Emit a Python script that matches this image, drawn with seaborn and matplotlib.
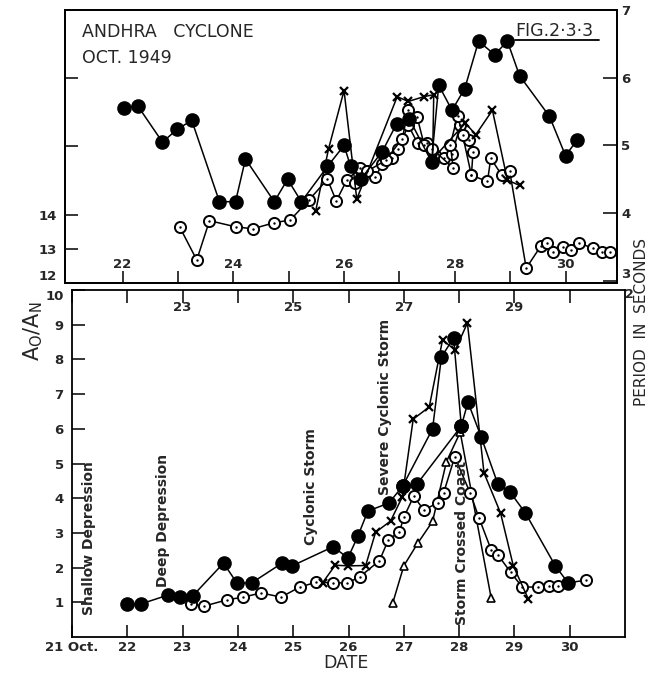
import matplotlib
matplotlib.use("Agg")
import matplotlib.pyplot as plt
import matplotlib.transforms as mtransforms
from matplotlib.lines import Line2D
import pandas as pd
import seaborn as sns

# ---------------- data : upper panel (wave period, seconds) ----------------
top_filled_date = [22.02, 22.27, 22.72, 22.99, 23.25, 23.75, 24.04, 24.22, 24.74, 24.98, 25.23,
                   25.70, 26.0, 26.12, 26.30, 26.69, 26.95, 27.18, 27.58, 27.71, 27.95, 28.18,
                   28.43, 28.72, 28.95, 29.17, 29.71, 30.0, 30.21]
top_filled_period = [5.55, 5.59, 5.05, 5.24, 5.37, 4.17, 4.17, 4.80, 4.17, 4.50, 4.17,
                     4.69, 5.0, 4.69, 4.50, 4.91, 5.32, 5.39, 4.76, 5.89, 5.52, 5.84,
                     6.54, 6.34, 6.54, 6.03, 5.43, 4.85, 5.08]

top_open_a_date = [23.03, 23.34, 23.57, 24.04, 24.35, 24.74, 25.03, 25.36, 25.70, 25.86, 26.05,
                   26.29, 26.56, 26.69, 26.87, 26.98, 27.16, 27.33, 27.50, 27.65, 27.80, 27.95,
                   28.10, 28.25, 28.33, 28.30, 28.59, 28.65, 28.85, 28.99, 29.29, 29.55, 29.67,
                   29.78, 29.96, 30.10, 30.25, 30.50, 30.66, 30.81]
top_open_a_period = [3.80, 3.31, 3.89, 3.80, 3.77, 3.86, 3.90, 4.19, 4.50, 4.18, 4.49,
                     4.67, 4.53, 4.72, 4.81, 4.95, 5.30, 5.03, 5.03, 4.86, 4.81, 4.87,
                     5.30, 5.08, 4.91, 4.56, 4.47, 4.81, 4.56, 4.63, 3.19, 3.51, 3.56,
                     3.43, 3.50, 3.45, 3.56, 3.48, 3.43, 3.43]

top_open_b_date = [26.20, 26.42, 26.75, 27.05, 27.16, 27.32, 27.45, 27.59, 27.97, 27.92, 28.05,
                   28.14, 28.30]
top_open_b_period = [4.44, 4.62, 4.78, 5.10, 5.52, 5.42, 5.00, 4.95, 4.67, 5.01, 5.44,
                     5.16, 4.56]

top_cross_date = [25.49, 25.72, 26.0, 26.23, 26.96, 27.16, 27.44, 27.62, 27.60, 28.19, 28.38,
                  28.68, 28.95, 29.17]
top_cross_period = [4.04, 4.95, 5.81, 4.21, 5.72, 5.65, 5.72, 5.75, 4.80, 5.33, 5.16,
                    5.52, 4.49, 4.41]

# ---------------- data : lower panel (Ao/An) ----------------
bot_filled_a_date = [22.0, 22.24, 22.74, 22.95, 23.18, 23.74, 23.98, 24.25, 24.80, 24.98,
                     25.72, 25.99, 26.17, 26.35, 26.73, 26.98, 27.52, 27.68, 27.90, 28.04]
bot_filled_a_ratio = [0.95, 0.95, 1.21, 1.15, 1.18, 2.13, 1.56, 1.56, 2.13, 2.05,
                      2.60, 2.28, 2.91, 3.63, 3.86, 4.35, 6.00, 8.07, 8.62, 6.08]

bot_filled_b_date = [26.98, 27.24, 28.04, 28.16, 28.40, 28.70, 28.92, 29.20, 29.74, 29.97]
bot_filled_b_ratio = [4.35, 4.41, 6.08, 6.77, 5.76, 4.41, 4.18, 3.57, 2.05, 1.56]

bot_open_date = [23.15, 23.39, 23.80, 24.10, 24.42, 24.78, 25.12, 25.42, 25.72, 25.98, 26.20,
                 26.56, 26.72, 26.92, 27.00, 27.18, 27.36, 27.62, 27.72, 27.92, 28.20,
                 28.36, 28.58, 28.70, 28.93, 29.14, 29.42, 29.62, 29.79, 29.97, 30.30]
bot_open_ratio = [0.95, 0.89, 1.07, 1.15, 1.27, 1.15, 1.44, 1.58, 1.56, 1.56, 1.73,
                  2.20, 2.80, 3.03, 3.45, 4.06, 3.66, 3.87, 4.15, 5.19, 4.15,
                  3.43, 2.51, 2.37, 1.87, 1.44, 1.44, 1.47, 1.47, 1.56, 1.64]

bot_cross_date = [25.53, 25.76, 25.99, 26.31, 26.49, 26.76, 26.97, 27.17, 27.46, 27.70,
                  27.93, 28.15, 28.45, 28.75, 28.98, 29.25]
bot_cross_ratio = [1.56, 2.07, 2.05, 2.06, 3.02, 3.34, 4.03, 6.28, 6.63, 8.56,
                   8.27, 9.05, 4.73, 3.57, 2.05, 1.10]

bot_tri_date = [26.80, 27.00, 27.25, 27.52, 27.77, 28.02, 28.58]
bot_tri_ratio = [0.98, 2.05, 2.70, 3.33, 5.05, 5.90, 1.12]

# ---------------- axis labels / ticks ----------------
top_day_labels = [22, 24, 26, 28, 30]
bottom_inner_day_labels = [23, 25, 27, 29]
bottom_days = [21, 22, 23, 24, 25, 26, 27, 28, 29, 30]
bottom_day_text = ['21 Oct.', '22', '23', '24', '25', '26', '27', '28', '29', '30']
upper_left_ticks = [12, 13, 14, 16, 18]
upper_left_text = ['12', '13', '14', '', '']
period_ticks = [3, 4, 5, 6, 7]
ratio_ticks = [1, 2, 3, 4, 5, 6, 7, 8, 9, 10]
stage_names = ['Shallow Depression', 'Deep Depression', 'Cyclonic Storm',
               'Severe Cyclonic Storm', 'Storm Crossed Coast']

# ---------------- style ----------------
sns.set_theme(style="ticks")
plt.rcParams['font.family'] = ['DejaVu Sans']
plt.rcParams['mathtext.default'] = 'regular'
plt.rcParams['axes.edgecolor'] = 'black'
plt.rcParams['axes.linewidth'] = 1.3

fig = plt.figure(figsize=(6.51, 6.74), dpi=100)
fig.patch.set_facecolor('white')

ax1 = fig.add_axes([0.0998, 0.5801, 0.8480, 0.4051])   # upper panel (left scale)
ax1r = ax1.twinx()                                      # period scale
ax2 = fig.add_axes([0.1106, 0.0549, 0.8495, 0.5148])    # lower panel


def draw(ax, xs, ys, kind):
    df = pd.DataFrame({'date': xs, 'val': ys})
    common = dict(data=df, x='date', y='val', ax=ax, sort=False, estimator=None,
                  color='black', linewidth=1.1, legend=False)
    if kind == 'filled':
        sns.lineplot(**common, marker='o', markersize=9.5, markerfacecolor='black',
                     markeredgecolor='black', markeredgewidth=1.0)
    elif kind == 'open':
        sns.lineplot(**common, marker='o', markersize=8, markerfacecolor='white',
                     markeredgecolor='black', markeredgewidth=1.4)
        sns.scatterplot(data=df, x='date', y='val', ax=ax, color='black', s=3,
                        linewidth=0, zorder=6, legend=False)
    elif kind == 'cross':
        sns.lineplot(**common, marker='x', markersize=6, markerfacecolor='black',
                     markeredgecolor='black', markeredgewidth=1.6)
    elif kind == 'tri':
        sns.lineplot(**common, marker='^', markersize=6, markerfacecolor='white',
                     markeredgecolor='black', markeredgewidth=1.2)
    ax.set_xlabel('')
    ax.set_ylabel('')


# upper panel
draw(ax1r, top_open_a_date, top_open_a_period, 'open')
draw(ax1r, top_open_b_date, top_open_b_period, 'open')
draw(ax1r, top_cross_date, top_cross_period, 'cross')
draw(ax1r, top_filled_date, top_filled_period, 'filled')

# lower panel
draw(ax2, bot_tri_date, bot_tri_ratio, 'tri')
draw(ax2, bot_open_date, bot_open_ratio, 'open')
draw(ax2, bot_cross_date, bot_cross_ratio, 'cross')
draw(ax2, bot_filled_b_date, bot_filled_b_ratio, 'filled')
draw(ax2, bot_filled_a_date, bot_filled_a_ratio, 'filled')

tick_font = dict(fontsize=9.5, fontweight='bold')

# ---- upper panel axes ----
ax1.set_xlim(20.96, 30.93)
ax1r.set_xlim(20.96, 30.93)
ax1.set_ylim(12, 20)
ax1.set_yticks(upper_left_ticks)
ax1.set_yticklabels(upper_left_text, **tick_font)
ax1.get_yticklabels()[0].set_va('bottom')
ax1.tick_params(axis='y', left=True, right=False, direction='in', length=9, width=1.3, pad=6)
ax1.set_xticks(range(22, 31))
ax1.tick_params(axis='x', bottom=True, top=False, direction='in', length=9, width=1.3,
                labelbottom=False)
ax1r.set_ylim(2.97, 7.0)
ax1r.set_yticks(period_ticks)
ax1r.set_yticklabels([str(t) for t in period_ticks], **tick_font)
ax1r.get_yticklabels()[0].set_va('bottom')
ax1r.tick_params(axis='y', right=True, left=False, direction='in', length=10, width=1.3, pad=3)
ax1r.tick_params(axis='x', bottom=False, labelbottom=False)
trans1 = mtransforms.blended_transform_factory(ax1.transData, ax1.transAxes)
for d in top_day_labels:
    ax1.text(d, 0.066, str(d), transform=trans1, ha='center', va='center', **tick_font)

# ---- lower panel axes ----
ax2.set_xlim(21, 31)
ax2.set_ylim(0, 10)
ax2.set_xticks(bottom_days)
ax2.set_xticklabels(bottom_day_text, **tick_font)
ax2.tick_params(axis='x', bottom=True, top=True, direction='in', length=9, width=1.3, pad=3)
ax2.set_yticks(ratio_ticks)
ax2.set_yticklabels([str(t) for t in ratio_ticks], **tick_font)
ax2.get_yticklabels()[-1].set_va('top')
ax2.tick_params(axis='y', left=True, right=False, direction='in', length=9, width=1.3, pad=6)
trans2 = mtransforms.blended_transform_factory(ax2.transData, ax2.transAxes)
for d in bottom_inner_day_labels:
    ax2.text(d, 0.951, str(d), transform=trans2, ha='center', va='center', **tick_font)

# stage annotations (vertical)
stage_pos = [(21.30, 2.85), (22.65, 3.37), (25.32, 4.35), (26.66, 6.63), (28.06, 2.71)]
for name, (xd, yd) in zip(stage_names, stage_pos):
    ax2.text(xd, yd, name, rotation=90, ha='center', va='center', fontsize=10,
             fontweight='bold')

# titles and labels
fig.text(82 / 651, 1 - 32 / 674, 'ANDHRA   CYCLONE', fontsize=12.5, ha='left', va='center')
fig.text(82 / 651, 1 - 58 / 674, 'OCT. 1949', fontsize=12.5, ha='left', va='center')
fig.text(515 / 651, 1 - 31 / 674, 'FIG.2·3·3', fontsize=12.5, ha='left', va='center')
fig.add_artist(Line2D([515 / 651, 599 / 651], [1 - 40 / 674, 1 - 40 / 674],
                      color='black', linewidth=1.3))
fig.text(33 / 651, 1 - 331 / 674, 'A$_O$/A$_N$', rotation=90, fontsize=15,
         ha='center', va='center')
fig.text(641 / 651, 1 - 322 / 674, 'PERIOD  IN  SECONDS', rotation=90, fontsize=11,
         ha='center', va='center')
fig.text(629 / 651, 1 - 288 / 674, '2', fontsize=9, fontweight='bold', ha='center',
         va='top')
fig.text(346 / 651, 1 - 663 / 674, 'DATE', fontsize=12.5, ha='center', va='center')

fig.savefig('out.png', dpi=100, facecolor='white')
